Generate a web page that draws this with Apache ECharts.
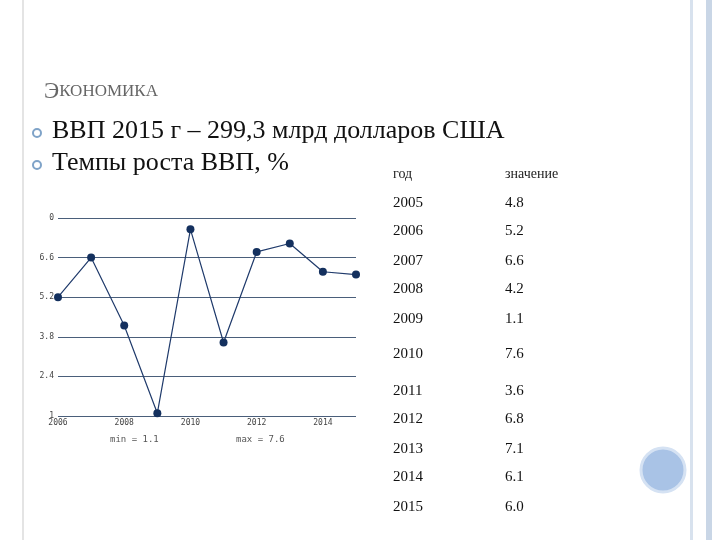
<!DOCTYPE html>
<html>
<head>
<meta charset="UTF-8">
<script src="https://cdn.jsdelivr.net/npm/echarts/dist/echarts.min.js"></script>
<style>html,body{margin:0;background:#fff}#main{width:720px;height:540px}</style>
</head>
<body>
<div id="main"></div>
<script>
// данные
var years = [2006, 2007, 2008, 2009, 2010, 2011, 2012, 2013, 2014, 2015];
var growth = [5.2, 6.6, 4.2, 1.1, 7.6, 3.6, 6.8, 7.1, 6.1, 6.0];
var yTickLabels = ['1', '2.4', '3.8', '5.2', '6.6', '0'];
var tableYears = ['2005', '2006', '2007', '2008', '2009', '2010', '2011', '2012', '2013', '2014', '2015'];
var tableValues = ['4.8', '5.2', '6.6', '4.2', '1.1', '7.6', '3.6', '6.8', '7.1', '6.1', '6.0'];
var rowY = [204, 232, 262, 290, 320, 355, 392, 420, 450, 478, 508];

var chart = echarts.init(document.getElementById('main'));
var serif = 'Liberation Serif';
var mono = 'DejaVu Sans Mono';

var g = [
    { type: 'rect', shape: { x: 22, y: 0, width: 2, height: 540 }, style: { fill: '#e4e4e4' } },
    { type: 'rect', shape: { x: 690, y: 0, width: 3, height: 540 }, style: { fill: '#d8e2ee' } },
    { type: 'rect', shape: { x: 706, y: 0, width: 6, height: 540 }, style: { fill: '#c9d6e6' } },
    { type: 'circle', shape: { cx: 663, cy: 470, r: 22 }, style: { fill: '#a9c3e6', stroke: '#d5e2f3', lineWidth: 3 } },
    { type: 'text', left: 44, top: 80, style: {
        text: '{a|Э}{b|КОНОМИКА}',
        rich: { a: { font: '23px ' + serif, fill: '#666' }, b: { font: '17px ' + serif, fill: '#666' } }
    } },
    { type: 'circle', shape: { cx: 37, cy: 133, r: 4 }, style: { fill: '#fff', stroke: '#7fa3c8', lineWidth: 2 } },
    { type: 'circle', shape: { cx: 37, cy: 165, r: 4 }, style: { fill: '#fff', stroke: '#7fa3c8', lineWidth: 2 } },
    { type: 'text', left: 52, top: 118, style: { text: 'ВВП 2015 г – 299,3 млрд долларов США', font: '26px ' + serif, fill: '#111' } },
    { type: 'text', left: 52, top: 150, style: { text: 'Темпы роста ВВП, %', font: '26px ' + serif, fill: '#111' } },
    { type: 'text', left: 393, top: 167, style: { text: 'год', font: '14px ' + serif, fill: '#222' } },
    { type: 'text', left: 505, top: 167, style: { text: 'значение', font: '14px ' + serif, fill: '#222' } },
    { type: 'text', left: 110, top: 435, style: { text: 'min = 1.1', font: '9px ' + mono, fill: '#555' } },
    { type: 'text', left: 236, top: 435, style: { text: 'max = 7.6', font: '9px ' + mono, fill: '#555' } }
];
tableYears.forEach(function (y, i) {
    g.push({ type: 'text', left: 393, top: rowY[i] - 8, style: { text: y, font: '15px ' + serif, fill: '#111' } });
    g.push({ type: 'text', left: 505, top: rowY[i] - 8, style: { text: tableValues[i], font: '15px ' + serif, fill: '#111' } });
});

chart.setOption({
    animation: false,
    grid: { left: 58, top: 218, width: 298, height: 198 },
    xAxis: {
        type: 'value', min: 2006, max: 2015, interval: 2,
        axisLine: { show: false }, axisTick: { show: false }, splitLine: { show: false },
        axisLabel: {
            fontFamily: mono, fontSize: 8, color: '#444', margin: 3, showMaxLabel: false,
            formatter: function (v) { return String(v); }
        }
    },
    yAxis: {
        type: 'value', min: 1, max: 8, interval: 1.4,
        axisLine: { show: false }, axisTick: { show: false },
        splitLine: { lineStyle: { color: '#4a5e7a', width: 1 } },
        axisLabel: {
            fontFamily: mono, fontSize: 8, color: '#444', margin: 4,
            formatter: function (v) { return yTickLabels[Math.round((v - 1) / 1.4)]; }
        }
    },
    series: [{
        type: 'line',
        data: years.map(function (y, i) { return [y, growth[i]]; }),
        symbol: 'circle', symbolSize: 8,
        lineStyle: { color: '#1f3a6b', width: 1.2 },
        itemStyle: { color: '#14305e' }
    }],
    graphic: g
});
</script>
</body>
</html>
